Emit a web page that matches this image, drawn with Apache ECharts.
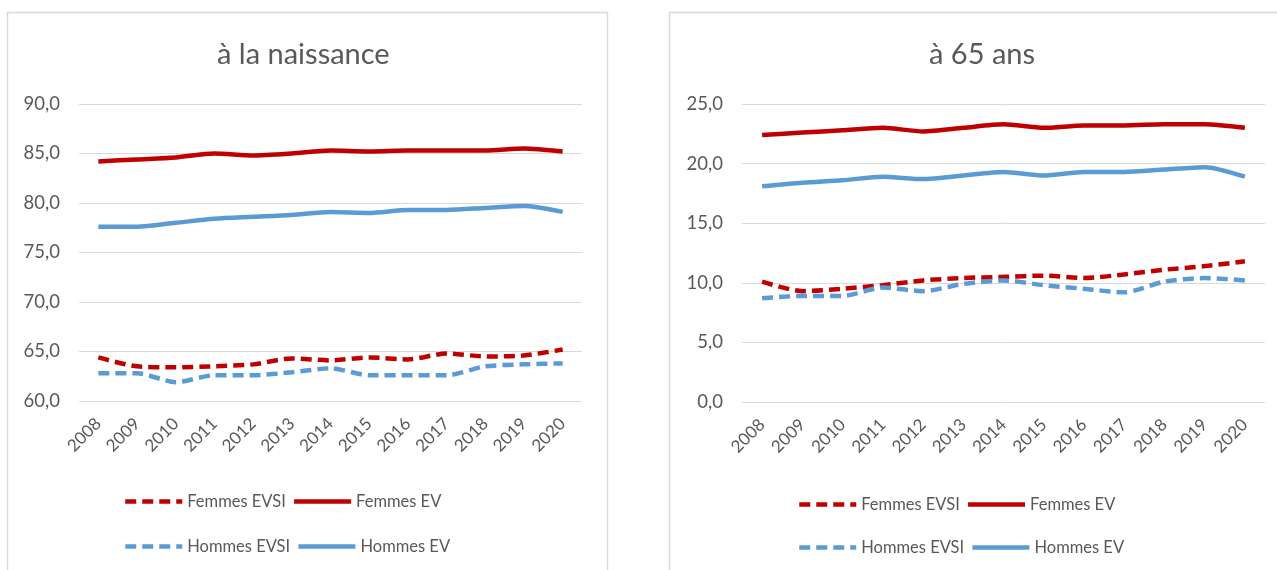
<!DOCTYPE html>
<html>
<head>
<meta charset="utf-8">
<script src="https://cdn.jsdelivr.net/npm/echarts@6/dist/echarts.min.js"></script>
<style>
html,body{margin:0;padding:0;background:#fff;}
#chart{width:1277px;height:570px;}
</style>
</head>
<body>
<div id="chart"></div>
<script>
const years = ['2008','2009','2010','2011','2012','2013','2014','2015','2016','2017','2018','2019','2020'];

const titleLeft = 'à la naissance';
const titleRight = 'à 65 ans';

const naisFemmesEVSI = [64.4, 63.5, 63.4, 63.5, 63.7, 64.3, 64.1, 64.4, 64.2, 64.8, 64.5, 64.6, 65.2];
const naisFemmesEV   = [84.2, 84.4, 84.6, 85.0, 84.8, 85.0, 85.3, 85.2, 85.3, 85.3, 85.3, 85.5, 85.2];
const naisHommesEVSI = [62.8, 62.8, 61.9, 62.6, 62.6, 62.9, 63.3, 62.6, 62.6, 62.6, 63.5, 63.7, 63.8];
const naisHommesEV   = [77.6, 77.6, 78.0, 78.4, 78.6, 78.8, 79.1, 79.0, 79.3, 79.3, 79.5, 79.7, 79.1];

const ansFemmesEVSI = [10.1, 9.3, 9.5, 9.8, 10.2, 10.4, 10.5, 10.6, 10.4, 10.7, 11.1, 11.4, 11.8];
const ansFemmesEV   = [22.4, 22.6, 22.8, 23.0, 22.7, 23.0, 23.3, 23.0, 23.2, 23.2, 23.3, 23.3, 23.0];
const ansHommesEVSI = [8.7, 8.9, 8.9, 9.6, 9.3, 9.9, 10.2, 9.8, 9.5, 9.2, 10.1, 10.4, 10.2];
const ansHommesEV   = [18.1, 18.4, 18.6, 18.9, 18.7, 19.0, 19.3, 19.0, 19.3, 19.3, 19.5, 19.7, 18.9];

const RED = '#C00000';
const BLUE = '#5B9BD5';
const TXT = '#595959';
const GRIDC = '#D9D9D9';
const FONT = 'Lato, "Liberation Sans", sans-serif';
const DASH = [11, 6];

function fmt(v){ return v.toFixed(1).replace('.', ','); }

function xAxis(gi){
  return {
    type:'category', data:years, gridIndex:gi, boundaryGap:true,
    axisLine:{show:false}, axisTick:{show:false},
    axisLabel:{rotate:45, color:TXT, fontSize:17, fontFamily:FONT, margin:20, interval:0}
  };
}
function yAxis(gi, min, max){
  return {
    type:'value', gridIndex:gi, min:min, max:max, interval:5,
    axisLine:{show:false}, axisTick:{show:false},
    splitLine:{lineStyle:{color:GRIDC, width:1}},
    axisLabel:{color:TXT, fontSize:18.5, fontFamily:FONT, margin:19, formatter:fmt}
  };
}
function ser(name, data, gi, color, dashed){
  return {
    name:name, type:'line', data:data, xAxisIndex:gi, yAxisIndex:gi,
    symbol:'none', smooth:0.25, animation:false,
    lineStyle:{color:color, width:4.5, type: dashed ? DASH : 'solid', cap:'butt'},
    itemStyle:{color:color}
  };
}
function legend(names, left, top){
  return {
    data:names, left:left, top:top, orient:'horizontal', padding:0,
    itemWidth:57, itemHeight:14, itemGap:6, selectedMode:false,
    itemStyle:{opacity:0},
    lineStyle:{width:4.5},
    textStyle:{color:TXT, fontSize:16.5, fontFamily:FONT}
  };
}

const chart = echarts.init(document.getElementById('chart'), null, {renderer:'canvas'});
chart.setOption({
  animation:false,
  backgroundColor:'#fff',
  title:[
    {text:titleLeft, left:212, top:35, textStyle:{color:TXT, fontSize:29, fontWeight:'normal', fontFamily:FONT}},
    {text:titleRight, left:924, top:35, textStyle:{color:TXT, fontSize:29, fontWeight:'normal', fontFamily:FONT}}
  ],
  graphic:[
    {type:'rect', silent:true, shape:{x:7.5, y:12.5, width:600, height:620}, style:{fill:'none', stroke:GRIDC, lineWidth:1.5}},
    {type:'rect', silent:true, shape:{x:669.5, y:12.5, width:700, height:620}, style:{fill:'none', stroke:GRIDC, lineWidth:1.5}}
  ],
  grid:[
    {left:79, top:104, width:503, height:297, containLabel:false},
    {left:742, top:104, width:523, height:298, containLabel:false}
  ],
  xAxis:[xAxis(0), xAxis(1)],
  yAxis:[yAxis(0, 60, 90), yAxis(1, 0, 25)],
  legend:[
    legend(['Femmes EVSI','Femmes EV'], 123, 493),
    legend(['Hommes EVSI','Hommes EV'], 123, 538),
    legend(['Femmes EVSI','Femmes EV'], 797, 496),
    legend(['Hommes EVSI','Hommes EV'], 797, 539)
  ],
  series:[
    ser('Femmes EVSI', naisFemmesEVSI, 0, RED, true),
    ser('Femmes EV', naisFemmesEV, 0, RED, false),
    ser('Hommes EVSI', naisHommesEVSI, 0, BLUE, true),
    ser('Hommes EV', naisHommesEV, 0, BLUE, false),
    ser('Femmes EVSI', ansFemmesEVSI, 1, RED, true),
    ser('Femmes EV', ansFemmesEV, 1, RED, false),
    ser('Hommes EVSI', ansHommesEVSI, 1, BLUE, true),
    ser('Hommes EV', ansHommesEV, 1, BLUE, false)
  ]
});
</script>
</body>
</html>
